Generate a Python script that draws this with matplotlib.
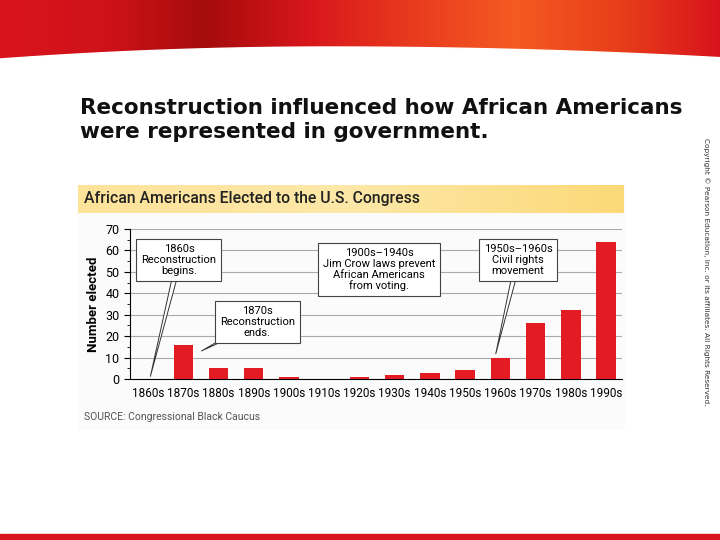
import matplotlib
matplotlib.use("Agg")
import matplotlib.pyplot as plt
import numpy as np
from matplotlib.patches import Rectangle
from matplotlib.colors import LinearSegmentedColormap

decades = ["1860s","1870s","1880s","1890s","1900s","1910s","1920s","1930s","1940s","1950s","1960s","1970s","1980s","1990s"]
elected = [0,16,5,5,1,0,1,2,3,4,10,26,32,64]
yticks = [0,10,20,30,40,50,60,70]

NF = "Roboto"
fig = plt.figure(figsize=(7.2,5.4), dpi=100)
W, H = 720, 540
def fx(px): return px/W
def fy(py): return 1-py/H

bg = fig.add_axes([0,0,1,1], zorder=-5)
cm = LinearSegmentedColormap.from_list("r", ["#d8141c","#d0121a","#a50c0c","#d8161c","#e83a1e","#f55a22","#e8401a","#d8141c"])
bg.imshow(np.linspace(0,1,256).reshape(1,-1), cmap=cm, extent=[0,W,80,0], aspect="auto", zorder=0)
xs = np.linspace(0,W,100)
curve = np.where(xs<330, 47+(330-xs)**2*0.00011, 47+(xs-330)**2*0.00007)
bg.fill_between(xs, curve, 82, color="white", zorder=1)
bg.add_patch(Rectangle((0,534),W,6,color="#d8141c",zorder=1))
bg.add_patch(Rectangle((78,185),546,243,color="#fbfbfb",zorder=1))
bg.imshow(np.linspace(0,1,256).reshape(1,-1), cmap=LinearSegmentedColormap.from_list("y2",["#fde39a","#fde8a8","#fcd978"]),
          extent=[78,624,213,185], aspect="auto", zorder=2)
bg.set_xlim(0,W); bg.set_ylim(H,0); bg.axis("off")

fig.text(fx(80), fy(120), "Reconstruction influenced how African Americans\nwere represented in government.",
         fontsize=15.5, fontweight="bold", family="DejaVu Sans", va="center", linespacing=1.3, color="#111")
fig.text(fx(84), fy(199), "African Americans Elected to the U.S. Congress", fontsize=11.3, family=NF, va="center", color="#222", fontweight="medium")
fig.text(fx(84), fy(417), "SOURCE: Congressional Black Caucus", fontsize=7.5, family=NF, va="center", color="#555")
fig.text(fx(706), fy(272), "Copyright © Pearson Education, Inc. or its affiliates. All Rights Reserved.",
         fontsize=5.3, rotation=-90, ha="center", va="center", color="#333")

ax = fig.add_axes([fx(130), fy(379), fx(622)-fx(130), fy(229)-fy(379)])
ax.set_facecolor("none")
x = np.arange(len(decades))
ax.bar(x, elected, width=0.55, color="#e31b23", zorder=3)
ax.set_xlim(-0.51, 13.45); ax.set_ylim(0,70)
ax.set_yticks(yticks); ax.set_yticks(range(5,70,10), minor=True)
ax.set_xticks(x); ax.set_xticklabels(decades, family=NF, fontsize=8.5)
ax.tick_params(axis="y", labelsize=9, length=4)
for l in ax.get_yticklabels(): l.set_family(NF)
ax.tick_params(axis="x", length=0, pad=6)
ax.grid(axis="y", color="#aaaaaa", lw=0.8, zorder=0)
for s in ["top","right"]: ax.spines[s].set_visible(False)
ax.set_ylabel("Number elected", family=NF, fontsize=9.5, fontweight="bold", labelpad=4)

bb = dict(boxstyle="square,pad=0.45", fc="white", ec="#444", lw=0.8)
def note(tx, ty, txt, ax0, ay0):
    ax.annotate("", xy=(ax0, ay0), xytext=(tx, ty), arrowprops=dict(arrowstyle="wedge,tail_width=0.4", fc="white", ec="#333", lw=0.7), zorder=4)
    ax.text(tx, ty, txt, ha="center", va="center", family=NF, fontsize=8, bbox=bb, zorder=5, linespacing=1.1)
note(0.88, 55.5, "1860s\nReconstruction\nbegins.", 0.05, 0)
note(3.1, 26.6, "1870s\nReconstruction\nends.", 1.45, 12.5)
note(6.56, 51, "1900s–1940s\nJim Crow laws prevent\nAfrican Americans\nfrom voting.", 6.56, 51)
note(10.5, 55.5, "1950s–1960s\nCivil rights\nmovement", 9.85, 10.5)
fig.savefig("out.png", dpi=100)
